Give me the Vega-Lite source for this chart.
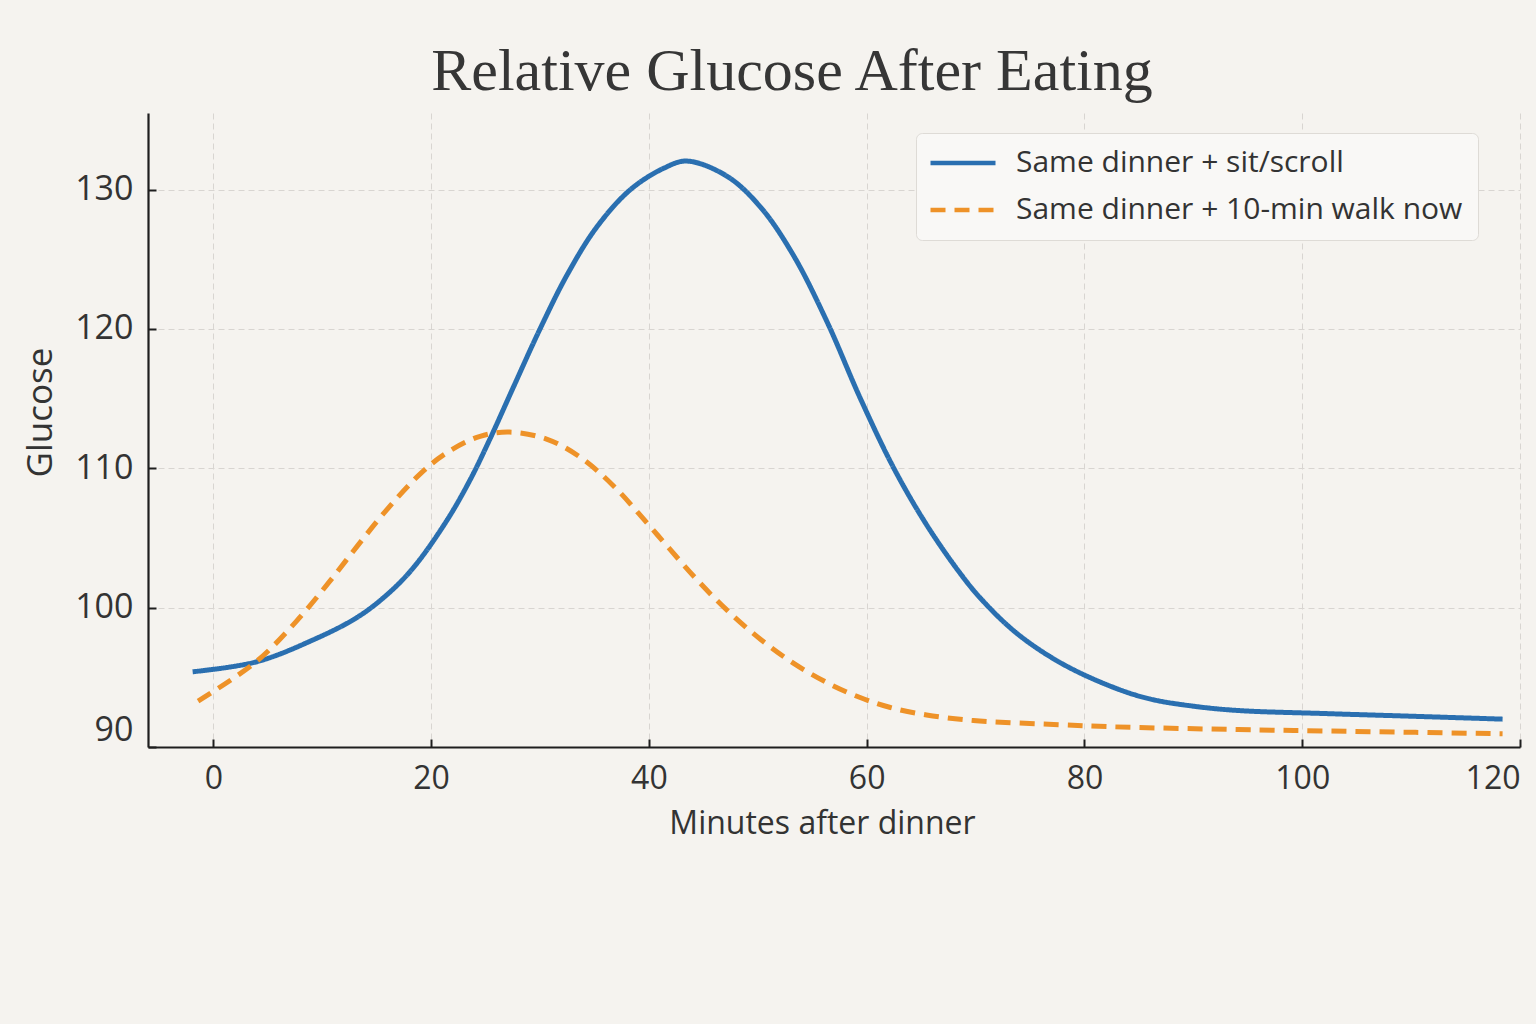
{
  "$schema": "https://vega.github.io/schema/vega-lite/v6.json",
  "width": 1372,
  "height": 634,
  "autosize": {"type": "none"},
  "padding": {"left": 148, "top": 113, "right": 16, "bottom": 277},
  "background": "#f5f3ef",
  "title": {
    "text": "Relative Glucose After Eating",
    "font": "Liberation Serif",
    "fontSize": 60,
    "fontWeight": "normal",
    "color": "#363636",
    "anchor": "middle",
    "baseline": "alphabetic",
    "offset": 22,
    "dy": 59,
    "dx": -42
  },
  "data": {
    "values": [
      {"series": "Same dinner + sit/scroll", "minutes": -1.9, "glucose": 95.4},
      {"series": "Same dinner + sit/scroll", "minutes": 3.9, "glucose": 96.1},
      {"series": "Same dinner + sit/scroll", "minutes": 9.2, "glucose": 97.7},
      {"series": "Same dinner + sit/scroll", "minutes": 13.2, "glucose": 99.3},
      {"series": "Same dinner + sit/scroll", "minutes": 15.9, "glucose": 100.9},
      {"series": "Same dinner + sit/scroll", "minutes": 18.3, "glucose": 102.8},
      {"series": "Same dinner + sit/scroll", "minutes": 21.4, "glucose": 106.2},
      {"series": "Same dinner + sit/scroll", "minutes": 23.6, "glucose": 109.2},
      {"series": "Same dinner + sit/scroll", "minutes": 25.4, "glucose": 112.1},
      {"series": "Same dinner + sit/scroll", "minutes": 27.6, "glucose": 115.9},
      {"series": "Same dinner + sit/scroll", "minutes": 30.0, "glucose": 120.0},
      {"series": "Same dinner + sit/scroll", "minutes": 32.5, "glucose": 123.9},
      {"series": "Same dinner + sit/scroll", "minutes": 35.2, "glucose": 127.3},
      {"series": "Same dinner + sit/scroll", "minutes": 38.3, "glucose": 130.0},
      {"series": "Same dinner + sit/scroll", "minutes": 41.4, "glucose": 131.55},
      {"series": "Same dinner + sit/scroll", "minutes": 43.5, "glucose": 132.05},
      {"series": "Same dinner + sit/scroll", "minutes": 47.2, "glucose": 130.95},
      {"series": "Same dinner + sit/scroll", "minutes": 50.3, "glucose": 128.7},
      {"series": "Same dinner + sit/scroll", "minutes": 53.3, "glucose": 125.25},
      {"series": "Same dinner + sit/scroll", "minutes": 56.4, "glucose": 120.45},
      {"series": "Same dinner + sit/scroll", "minutes": 59.4, "glucose": 115.05},
      {"series": "Same dinner + sit/scroll", "minutes": 62.5, "glucose": 110.0},
      {"series": "Same dinner + sit/scroll", "minutes": 65.5, "glucose": 105.95},
      {"series": "Same dinner + sit/scroll", "minutes": 68.6, "glucose": 102.45},
      {"series": "Same dinner + sit/scroll", "minutes": 70.6, "glucose": 100.55},
      {"series": "Same dinner + sit/scroll", "minutes": 73.8, "glucose": 98.15},
      {"series": "Same dinner + sit/scroll", "minutes": 77.9, "glucose": 96.0},
      {"series": "Same dinner + sit/scroll", "minutes": 82.6, "glucose": 94.3},
      {"series": "Same dinner + sit/scroll", "minutes": 86.0, "glucose": 93.45},
      {"series": "Same dinner + sit/scroll", "minutes": 90.1, "glucose": 92.92},
      {"series": "Same dinner + sit/scroll", "minutes": 94.1, "glucose": 92.62},
      {"series": "Same dinner + sit/scroll", "minutes": 102.1, "glucose": 92.4},
      {"series": "Same dinner + sit/scroll", "minutes": 110.4, "glucose": 92.2},
      {"series": "Same dinner + sit/scroll", "minutes": 118.4, "glucose": 92.0},
      {"series": "Same dinner + 10-min walk now", "minutes": -1.4, "glucose": 93.3},
      {"series": "Same dinner + 10-min walk now", "minutes": 3.9, "glucose": 96.1},
      {"series": "Same dinner + 10-min walk now", "minutes": 7.6, "glucose": 99.0},
      {"series": "Same dinner + 10-min walk now", "minutes": 10.7, "glucose": 101.9},
      {"series": "Same dinner + 10-min walk now", "minutes": 13.2, "glucose": 104.4},
      {"series": "Same dinner + 10-min walk now", "minutes": 15.9, "glucose": 107.0},
      {"series": "Same dinner + 10-min walk now", "minutes": 19.0, "glucose": 109.6},
      {"series": "Same dinner + 10-min walk now", "minutes": 21.4, "glucose": 111.1},
      {"series": "Same dinner + 10-min walk now", "minutes": 24.5, "glucose": 112.3},
      {"series": "Same dinner + 10-min walk now", "minutes": 27.2, "glucose": 112.6},
      {"series": "Same dinner + 10-min walk now", "minutes": 30.6, "glucose": 112.1},
      {"series": "Same dinner + 10-min walk now", "minutes": 33.7, "glucose": 110.8},
      {"series": "Same dinner + 10-min walk now", "minutes": 36.8, "glucose": 108.7},
      {"series": "Same dinner + 10-min walk now", "minutes": 39.8, "glucose": 106.1},
      {"series": "Same dinner + 10-min walk now", "minutes": 41.7, "glucose": 104.4},
      {"series": "Same dinner + 10-min walk now", "minutes": 44.3, "glucose": 102.1},
      {"series": "Same dinner + 10-min walk now", "minutes": 47.2, "glucose": 99.8},
      {"series": "Same dinner + 10-min walk now", "minutes": 50.3, "glucose": 97.7},
      {"series": "Same dinner + 10-min walk now", "minutes": 53.3, "glucose": 96.0},
      {"series": "Same dinner + 10-min walk now", "minutes": 56.4, "glucose": 94.6},
      {"series": "Same dinner + 10-min walk now", "minutes": 59.4, "glucose": 93.55},
      {"series": "Same dinner + 10-min walk now", "minutes": 62.1, "glucose": 92.85},
      {"series": "Same dinner + 10-min walk now", "minutes": 65.5, "glucose": 92.3},
      {"series": "Same dinner + 10-min walk now", "minutes": 69.8, "glucose": 91.9},
      {"series": "Same dinner + 10-min walk now", "minutes": 77.7, "glucose": 91.6},
      {"series": "Same dinner + 10-min walk now", "minutes": 82.6, "glucose": 91.45},
      {"series": "Same dinner + 10-min walk now", "minutes": 94.1, "glucose": 91.25},
      {"series": "Same dinner + 10-min walk now", "minutes": 102.1, "glucose": 91.15},
      {"series": "Same dinner + 10-min walk now", "minutes": 110.4, "glucose": 91.05},
      {"series": "Same dinner + 10-min walk now", "minutes": 118.4, "glucose": 90.95}
    ]
  },
  "mark": {"type": "line", "strokeWidth": 5, "interpolate": "catmull-rom", "strokeCap": "butt"},
  "encoding": {
    "x": {
      "field": "minutes",
      "type": "quantitative",
      "title": "Minutes after dinner",
      "scale": {"domain": [-6, 120], "nice": false, "zero": false},
      "axis": {"values": [0, 20, 40, 60, 80, 100, 120], "labelPadding": 24, "titlePadding": 14, "titleFontSize": 32, "labelFlush": true, "titleX": 674}
    },
    "y": {
      "field": "glucose",
      "type": "quantitative",
      "title": "Glucose",
      "scale": {"domain": [90, 135.5], "nice": false, "zero": false},
      "axis": {"values": [90, 100, 110, 120, 130], "labelPadding": 23, "titlePadding": 16, "titleFontSize": 35, "labelFontSize": 34, "labelFlush": true, "titleY": 299}
    },
    "color": {
      "field": "series",
      "type": "nominal",
      "scale": {
        "domain": ["Same dinner + sit/scroll", "Same dinner + 10-min walk now"],
        "range": ["#2a6fb0", "#ee9228"]
      },
      "legend": {"title": null}
    },
    "strokeDash": {
      "field": "series",
      "type": "nominal",
      "scale": {
        "domain": ["Same dinner + sit/scroll", "Same dinner + 10-min walk now"],
        "range": [[1, 0], [15, 9]]
      },
      "legend": {"title": null}
    }
  },
  "config": {
    "view": {"stroke": null},
    "axis": {
      "labelFont": "Open Sans",
      "labelFontSize": 32,
      "labelColor": "#333333",
      "titleFont": "Open Sans",
      "titleFontWeight": "normal",
      "titleColor": "#333333",
      "domainColor": "#1e1e1e",
      "domainWidth": 2.2,
      "tickColor": "#1e1e1e",
      "tickWidth": 2,
      "tickSize": -8,
      "gridColor": "#d8d5d1",
      "gridDash": [6, 4],
      "gridWidth": 1
    },
    "legend": {
      "orient": "none",
      "legendX": 768,
      "legendY": 20,
      "fillColor": "#f9f8f6",
      "strokeColor": "#dedbd6",
      "cornerRadius": 6,
      "padding": 15,
      "labelFont": "Open Sans",
      "labelFontSize": 30,
      "labelColor": "#333333",
      "labelLimit": 0,
      "symbolType": "M-5,0H5",
      "symbolSize": 169,
      "symbolStrokeWidth": 4.5,
      "symbolOffset": 17,
      "labelOffset": 38,
      "rowPadding": 17
    }
  }
}
